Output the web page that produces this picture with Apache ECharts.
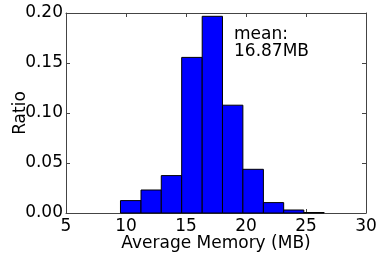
<!DOCTYPE html>
<html>
<head>
<meta charset="utf-8">
<script src="https://cdn.jsdelivr.net/npm/echarts@6/dist/echarts.min.js"></script>
<style>
html,body{margin:0;padding:0;background:#fff;}
#c{width:382px;height:259px;}
</style>
</head>
<body>
<div id="c"></div>
<script>
// Histogram data
const binStarts = [9.54, 11.25, 12.94, 14.64, 16.35, 18.04, 19.74, 21.45, 23.14, 24.82];
const binEnds   = [11.25, 12.94, 14.64, 16.35, 18.04, 19.74, 21.45, 23.14, 24.82, 26.51];
const ratios    = [0.0124, 0.0230, 0.0374, 0.1556, 0.1967, 0.1078, 0.0437, 0.0104, 0.0030, 0.0005];
const xTicks = [5, 10, 15, 20, 25, 30];
const yTicks = [0.00, 0.05, 0.10, 0.15, 0.20];
const meanText = 'mean:\n16.87MB';

const FONT = 'DejaVu Sans';
const frameColor = '#444';
const chart = echarts.init(document.getElementById('c'), null, {renderer: 'canvas'});

const data = ratios.map((r, i) => [binStarts[i], binEnds[i], r]);

const axisCommon = {
  axisLine: {show: true, onZero: false, lineStyle: {color: frameColor, width: 1}},
  axisTick: {show: true, inside: true, length: 4, lineStyle: {color: frameColor, width: 1}},
  splitLine: {show: false}
};

chart.setOption({
  animation: false,
  backgroundColor: '#fff',
  grid: {left: 66, right: 16, top: 13, bottom: 46, containLabel: false, outerBoundsMode: 'none'},
  xAxis: [
    Object.assign({
      type: 'value', min: xTicks[0], max: xTicks[xTicks.length - 1], interval: 5, position: 'bottom',
      name: 'Average Memory (MB)', nameLocation: 'middle', nameGap: 22, nameMoveOverlap: false,
      nameTextStyle: {fontFamily: FONT, fontSize: 17, color: '#000'},
      axisLabel: {fontFamily: FONT, fontSize: 17, color: '#000', margin: 5}
    }, axisCommon),
    Object.assign({
      type: 'value', min: xTicks[0], max: xTicks[xTicks.length - 1], interval: 5, position: 'top',
      axisLabel: {show: false}
    }, axisCommon)
  ],
  yAxis: [
    Object.assign({
      type: 'value', min: yTicks[0], max: yTicks[yTicks.length - 1], interval: 0.05, position: 'left',
      name: 'Ratio', nameLocation: 'middle', nameGap: 37, nameMoveOverlap: false,
      nameTextStyle: {fontFamily: FONT, fontSize: 17, color: '#000'},
      axisLabel: {fontFamily: FONT, fontSize: 17, color: '#000', margin: 3,
        formatter: v => v.toFixed(2)}
    }, axisCommon),
    Object.assign({
      type: 'value', min: yTicks[0], max: yTicks[yTicks.length - 1], interval: 0.05, position: 'right',
      axisLabel: {show: false}
    }, axisCommon)
  ],
  series: [{
    type: 'custom',
    xAxisIndex: 0,
    yAxisIndex: 0,
    data: data,
    renderItem: function (params, api) {
      const p0 = api.coord([api.value(0), api.value(2)]);
      const p1 = api.coord([api.value(1), 0]);
      return {
        type: 'rect',
        shape: {x: p0[0], y: p0[1], width: p1[0] - p0[0], height: p1[1] - p0[1]},
        style: {fill: '#0000ff', stroke: '#000', lineWidth: 1}
      };
    }
  }],
  graphic: [{
    type: 'text', left: 234, top: 26,
    style: {text: meanText, font: '17px "DejaVu Sans"', fill: '#000', lineHeight: 17}
  }]
});
</script>
</body>
</html>
